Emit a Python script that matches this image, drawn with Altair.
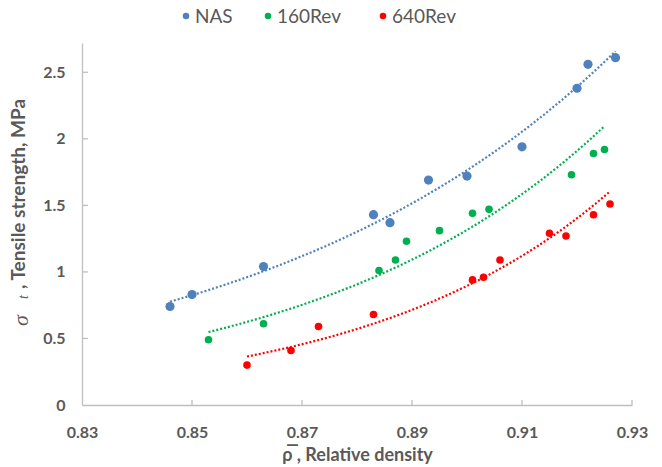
import altair as alt
import pandas as pd

# Series names, colours and marker areas
series_names = ["NAS", "160Rev", "640Rev"]
series_colors = ["#4F81BD", "#00B050", "#FF0000"]
point_sizes = [85, 58, 58]

# Relative density (x) and tensile strength in MPa (y) per series
nas_density = [0.846, 0.850, 0.863, 0.883, 0.886, 0.893, 0.900, 0.910, 0.920, 0.922, 0.927]
nas_strength = [0.74, 0.83, 1.04, 1.43, 1.37, 1.69, 1.72, 1.94, 2.38, 2.56, 2.61]

rev160_density = [0.853, 0.863, 0.884, 0.887, 0.889, 0.895, 0.901, 0.904, 0.919, 0.923, 0.925]
rev160_strength = [0.49, 0.61, 1.01, 1.09, 1.23, 1.31, 1.44, 1.47, 1.73, 1.89, 1.92]

rev640_density = [0.860, 0.868, 0.873, 0.883, 0.901, 0.903, 0.906, 0.915, 0.918, 0.923, 0.926]
rev640_strength = [0.30, 0.41, 0.59, 0.68, 0.94, 0.96, 1.09, 1.29, 1.27, 1.43, 1.51]

# Axis tick values
x_ticks = [0.83, 0.85, 0.87, 0.89, 0.91, 0.93]
y_ticks = [0, 0.5, 1, 1.5, 2, 2.5]

rows = []
for name, size, xs, ys in zip(
    series_names, point_sizes,
    [nas_density, rev160_density, rev640_density],
    [nas_strength, rev160_strength, rev640_strength],
):
    for xv, yv in zip(xs, ys):
        rows.append({"density": xv, "strength": yv, "series": name, "pt": size})
df = pd.DataFrame(rows)

W, H = 550, 362
AXIS_GREY = "#BFBFBF"
TEXT_GREY = "#595959"

x_scale = alt.Scale(domain=[0.83, 0.93], nice=False, zero=False)
y_scale = alt.Scale(domain=[0, 2.72], nice=False)
color_scale = alt.Scale(domain=series_names, range=series_colors)

x_axis = alt.Axis(
    values=x_ticks, format=".2f", title="\u03c1\u0305 , Relative density",
    grid=False, ticks=False, labelFlush=False, labelPadding=19,
    labelFont="Lato", labelFontWeight="bold", labelFontSize=16, labelColor=TEXT_GREY,
    titleFont="Lato", titleFontWeight="bold", titleFontSize=18, titleColor=TEXT_GREY,
    titlePadding=6, domainColor=AXIS_GREY, domainWidth=1.3,
)
y_axis = alt.Axis(
    values=y_ticks, format="~g", title="",
    grid=False, ticks=False, labelPadding=17,
    labelFont="Lato", labelFontWeight="bold", labelFontSize=16, labelColor=TEXT_GREY,
    domainColor=AXIS_GREY, domainWidth=1.3,
)

base = alt.Chart(df)

# Exponential trend per series: least squares of ln(strength) on density,
# sampled along the density range and mapped back with exp()
trend = base.transform_calculate(
    logy="log(datum.strength)"
).transform_regression(
    "density", "logy", method="poly", order=1, groupby=["series"]
).transform_calculate(
    fit="exp(datum.logy)"
).mark_line(strokeWidth=2.2, strokeDash=[2, 2]).encode(
    x=alt.X("density:Q", scale=x_scale, axis=x_axis),
    y=alt.Y("fit:Q", scale=y_scale, axis=y_axis),
    stroke=alt.Stroke("series:N", scale=color_scale, legend=None),
)

points = base.mark_circle(opacity=1).encode(
    x=alt.X("density:Q", scale=x_scale),
    y=alt.Y("strength:Q", scale=y_scale),
    color=alt.Color("series:N", scale=color_scale, legend=None),
    size=alt.Size("pt:Q", scale=None),
)

# Inward-facing tick marks on both axes
x_tick_marks = alt.Chart(pd.DataFrame({"v": x_ticks[1:]})).mark_rule(
    color=AXIS_GREY, strokeWidth=1.3
).encode(x=alt.X("v:Q", scale=x_scale), y=alt.value(H - 5), y2=alt.value(H))

y_tick_marks = alt.Chart(pd.DataFrame({"v": y_ticks[1:]})).mark_rule(
    color=AXIS_GREY, strokeWidth=1.3
).encode(y=alt.Y("v:Q", scale=y_scale), x=alt.value(0), x2=alt.value(6))

one = pd.DataFrame({"k": [0]})

# Horizontal key above the plot: one dot and label per series
key_symbol_x = [104, 186, 301]
key_layers = []
for name, colour, sx in zip(series_names, series_colors, key_symbol_x):
    key_layers.append(
        alt.Chart(one).mark_circle(color=colour, size=42, opacity=1).encode(
            x=alt.value(sx), y=alt.value(-27)
        )
    )
    key_layers.append(
        alt.Chart(one).mark_text(
            text=name, align="left", baseline="middle",
            font="Lato", fontSize=19, color=TEXT_GREY,
        ).encode(x=alt.value(sx + 9), y=alt.value(-26))
    )

# Y-axis title built from pieces: italic sigma, subscript t, then the words
sigma = alt.Chart(one).mark_text(
    text="\u03c3", angle=270, align="left", baseline="middle",
    font="Liberation Serif", fontStyle="italic", fontSize=22, color=TEXT_GREY,
).encode(x=alt.value(-61), y=alt.value(283))
sub_t = alt.Chart(one).mark_text(
    text="t", angle=270, align="left", baseline="middle",
    font="Liberation Serif", fontStyle="italic", fontSize=14, color=TEXT_GREY,
).encode(x=alt.value(-58), y=alt.value(256))
words = alt.Chart(one).mark_text(
    text=", Tensile strength, MPa", angle=270, align="left", baseline="middle",
    font="Lato", fontWeight="bold", fontSize=19, color=TEXT_GREY,
).encode(x=alt.value(-63), y=alt.value(246))

chart = alt.layer(
    trend, points, x_tick_marks, y_tick_marks, *key_layers, sigma, sub_t, words
).properties(
    width=W, height=H,
    autosize=alt.AutoSizeParams(type="none"),
    padding={"left": 82, "top": 43, "right": 30, "bottom": 62},
    background="white",
).configure_view(stroke=None)

chart.save("out.html", embed_options={"renderer": "svg", "actions": False})
